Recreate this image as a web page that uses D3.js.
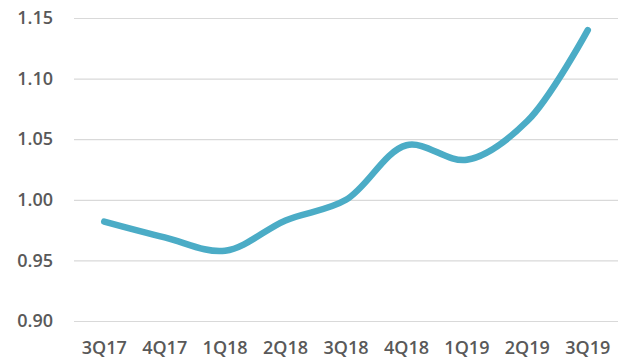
<!DOCTYPE html>
<html><head><meta charset="utf-8">
<script src="https://cdn.jsdelivr.net/npm/d3@7"></script>
<style>body{margin:0;background:#fff}svg{display:block}</style>
</head><body>
<svg id="c" width="626" height="363"></svg>
<script>
const categories = ["3Q17","4Q17","1Q18","2Q18","3Q18","4Q18","1Q19","2Q19","3Q19"];
const values = [0.982, 0.969, 0.958, 0.983, 1.000, 1.045, 1.033, 1.065, 1.140];
const yTicks = [0.90, 0.95, 1.00, 1.05, 1.10, 1.15];

(function(){
const svg = d3.select("#c");
const mL = 74, mR = 618, mT = 18, mB = 321;
const x = d3.scaleBand().domain(categories).range([mL, mR]);
const y = d3.scaleLinear().domain([0.90, 1.15]).range([mB, mT]);
const font = "'Open Sans', sans-serif";

const yAxis = svg.append("g").attr("transform", `translate(${mL},0)`)
  .call(d3.axisLeft(y).tickValues(yTicks).tickFormat(d3.format(".2f")).tickSize(-(mR-mL)).tickPadding(21));
yAxis.select(".domain").remove();
yAxis.selectAll(".tick line").attr("stroke", "#d9d9d9").attr("stroke-width", 1.2);
yAxis.selectAll(".tick text").attr("fill", "#595959").style("font", `600 18px ${font}`);

const xAxis = svg.append("g").attr("transform", `translate(0,${mB})`)
  .call(d3.axisBottom(x).tickSize(0).tickPadding(20));
xAxis.select(".domain").remove();
xAxis.selectAll(".tick text").attr("fill", "#595959").style("font", `600 18px ${font}`);

const line = d3.line().x((d,i)=>x(categories[i]) + x.bandwidth()/2).y(d=>y(d)).curve(d3.curveCatmullRom.alpha(0.5));
svg.append("path").datum(values).attr("d", line).attr("fill","none")
  .attr("stroke","#4bacc6").attr("stroke-width",6.5).attr("stroke-linecap","round").attr("stroke-linejoin","round");
})();
</script>
</body></html>
